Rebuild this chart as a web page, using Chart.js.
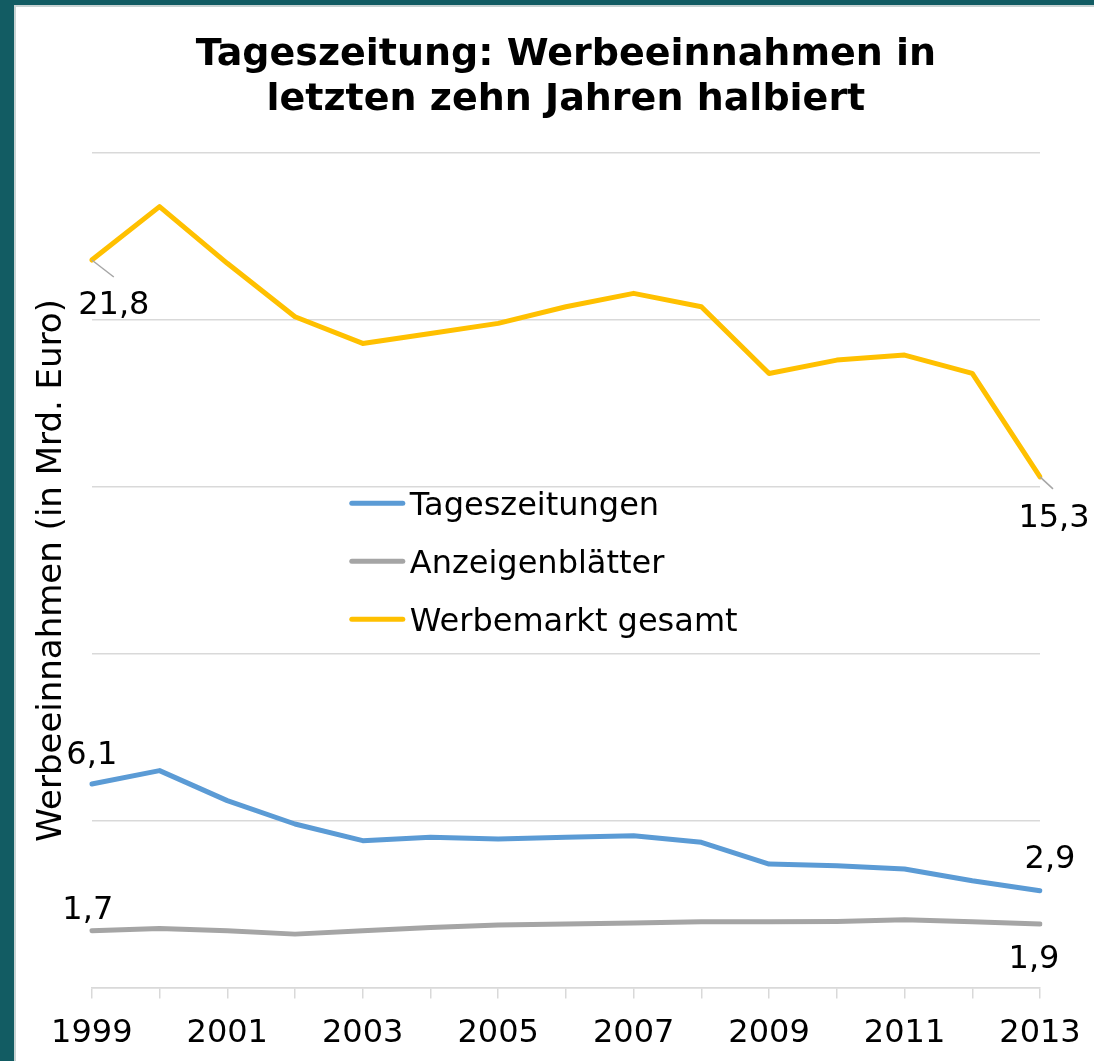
<!DOCTYPE html>
<html lang="de">
<head>
<meta charset="utf-8">
<title>Tageszeitung: Werbeeinnahmen</title>
<script src="https://cdn.jsdelivr.net/npm/chart.js@4.4.1/dist/chart.umd.min.js"></script>
<style>
  html, body { margin: 0; padding: 0; }
  body { background: #125c63; width: 1094px; height: 1061px; overflow: hidden; position: relative; }
  #panel {
    position: absolute; left: 14px; top: 5px; right: 0; bottom: 0; overflow: hidden;
    background: #fff; border-left: 2px solid #c9d3d3; border-top: 2px solid #c9d3d3;
  }
  #wrap { position: absolute; left: 0; top: 0; width: 1078px; height: 1062px; }
</style>
</head>
<body>
<div id="panel">
  <div id="wrap"><canvas id="chart"></canvas></div>
</div>
<script>
// Jahre
const jahre = ['1999', '2000', '2001', '2002', '2003', '2004', '2005', '2006',
               '2007', '2008', '2009', '2010', '2011', '2012', '2013'];

// Werbeeinnahmen in Mrd. Euro (aus der Grafik geschaetzt)
const tageszeitungen = [6.1, 6.5, 5.6, 4.9, 4.4, 4.5, 4.45, 4.5, 4.55, 4.35, 3.7, 3.65, 3.55, 3.2, 2.9];
const anzeigenblaetter = [1.7, 1.77, 1.7, 1.6, 1.7, 1.8, 1.87, 1.9, 1.93, 1.97, 1.97, 1.98, 2.03, 1.97, 1.9];
const werbemarkt = [21.8, 23.4, 21.7, 20.1, 19.3, 19.6, 19.9, 20.4, 20.8, 20.4, 18.4, 18.8, 18.95, 18.4, 15.3];

// Y-Achse
const yMin = 0;
const yMax = 25;
const yStep = 5;

const FONT = '"DejaVu Sans", Verdana, sans-serif';

// Beschriftung erster/letzter Punkt: Versatz der Grundlinie zum Punkt
const labelPlacement = {
  0: { first: { dx: 0, dy: -20 }, last: { dx: 10, dy: -23 } },
  1: { first: { dx: -4, dy: -12 }, last: { dx: -6, dy: 44 } },
  2: { first: { dx: 22, dy: 54, leader: [22, 17] }, last: { dx: 14, dy: 50, leader: [13, 12] } }
};

// Datenbeschriftungen zeichnen
const endLabels = {
  id: 'endLabels',
  afterDatasetsDraw(chart) {
    const ctx = chart.ctx;
    ctx.save();
    ctx.font = '32px ' + FONT;
    ctx.fillStyle = '#000';
    ctx.textAlign = 'center';
    ctx.textBaseline = 'alphabetic';
    chart.data.datasets.forEach((ds, i) => {
      const meta = chart.getDatasetMeta(i);
      const pts = [['first', 0], ['last', ds.data.length - 1]];
      pts.forEach(([key, idx]) => {
        const p = meta.data[idx];
        const pl = labelPlacement[i][key];
        if (pl.leader) {
          ctx.strokeStyle = '#a6a6a6';
          ctx.lineWidth = 1.5;
          ctx.beginPath();
          ctx.moveTo(p.x, p.y);
          ctx.lineTo(p.x + pl.leader[0], p.y + pl.leader[1]);
          ctx.stroke();
        }
        const txt = ds.data[idx].toFixed(1).replace('.', ',');
        ctx.fillText(txt, p.x + pl.dx, p.y + pl.dy);
      });
    });
    ctx.restore();
  }
};

// Legende innerhalb der Zeichenflaeche
const innerLegend = {
  id: 'innerLegend',
  afterDraw(chart) {
    const ctx = chart.ctx;
    const a = chart.chartArea;
    ctx.save();
    ctx.font = '32px ' + FONT;
    ctx.textAlign = 'left';
    ctx.textBaseline = 'alphabetic';
    chart.data.datasets.forEach((ds, i) => {
      const y = a.top + 350 + i * 58;
      const x = a.left + 258;
      ctx.strokeStyle = ds.borderColor;
      ctx.lineWidth = 5;
      ctx.lineCap = 'round';
      ctx.beginPath();
      ctx.moveTo(x + 2, y);
      ctx.lineTo(x + 53, y);
      ctx.stroke();
      ctx.fillStyle = '#000';
      ctx.fillText(ds.label, x + 60, y + 12);
    });
    ctx.restore();
  }
};

const ctx = document.getElementById('chart').getContext('2d');
new Chart(ctx, {
  type: 'line',
  data: {
    labels: jahre,
    datasets: [
      { label: 'Tageszeitungen', data: tageszeitungen, borderColor: '#5b9bd5' },
      { label: 'Anzeigenblätter', data: anzeigenblaetter, borderColor: '#a5a5a5' },
      { label: 'Werbemarkt gesamt', data: werbemarkt, borderColor: '#ffc000' }
    ]
  },
  options: {
    responsive: true,
    maintainAspectRatio: false,
    animation: false,
    layout: { padding: { left: 16, right: 54, top: 0, bottom: 0 } },
    elements: {
      line: { borderWidth: 5, tension: 0, borderCapStyle: 'round', borderJoinStyle: 'round' },
      point: { radius: 0, hoverRadius: 0 }
    },
    plugins: {
      legend: { display: false },
      tooltip: { enabled: false },
      title: {
        display: true,
        fullSize: false,
        text: ['Tageszeitung: Werbeeinnahmen in', 'letzten zehn Jahren halbiert'],
        color: '#000',
        font: { family: FONT, size: 38, weight: 'bold', lineHeight: 1.2 },
        padding: { top: 25, bottom: 30 }
      }
    },
    scales: {
      x: {
        grid: { drawOnChartArea: false, drawTicks: true, tickLength: 11, color: '#d9d9d9', lineWidth: 1.5 },
        border: { display: true, color: '#d9d9d9', width: 1.5 },
        ticks: {
          color: '#000',
          font: { family: FONT, size: 32, lineHeight: 1.39 },
          padding: 13,
          maxRotation: 0,
          autoSkip: false,
          callback: function (val, idx) { return idx % 2 === 0 ? this.getLabelForValue(val) : ''; }
        }
      },
      y: {
        min: yMin,
        max: yMax,
        ticks: { display: false, stepSize: yStep },
        grid: { color: '#d9d9d9', lineWidth: 1.5, drawTicks: false },
        border: { display: false },
        title: {
          display: true,
          text: 'Werbeeinnahmen (in Mrd. Euro)',
          color: '#000',
          font: { family: FONT, size: 34 },
          padding: { top: 0, bottom: 19 }
        }
      }
    }
  },
  plugins: [endLabels, innerLegend]
});
</script>
</body>
</html>
